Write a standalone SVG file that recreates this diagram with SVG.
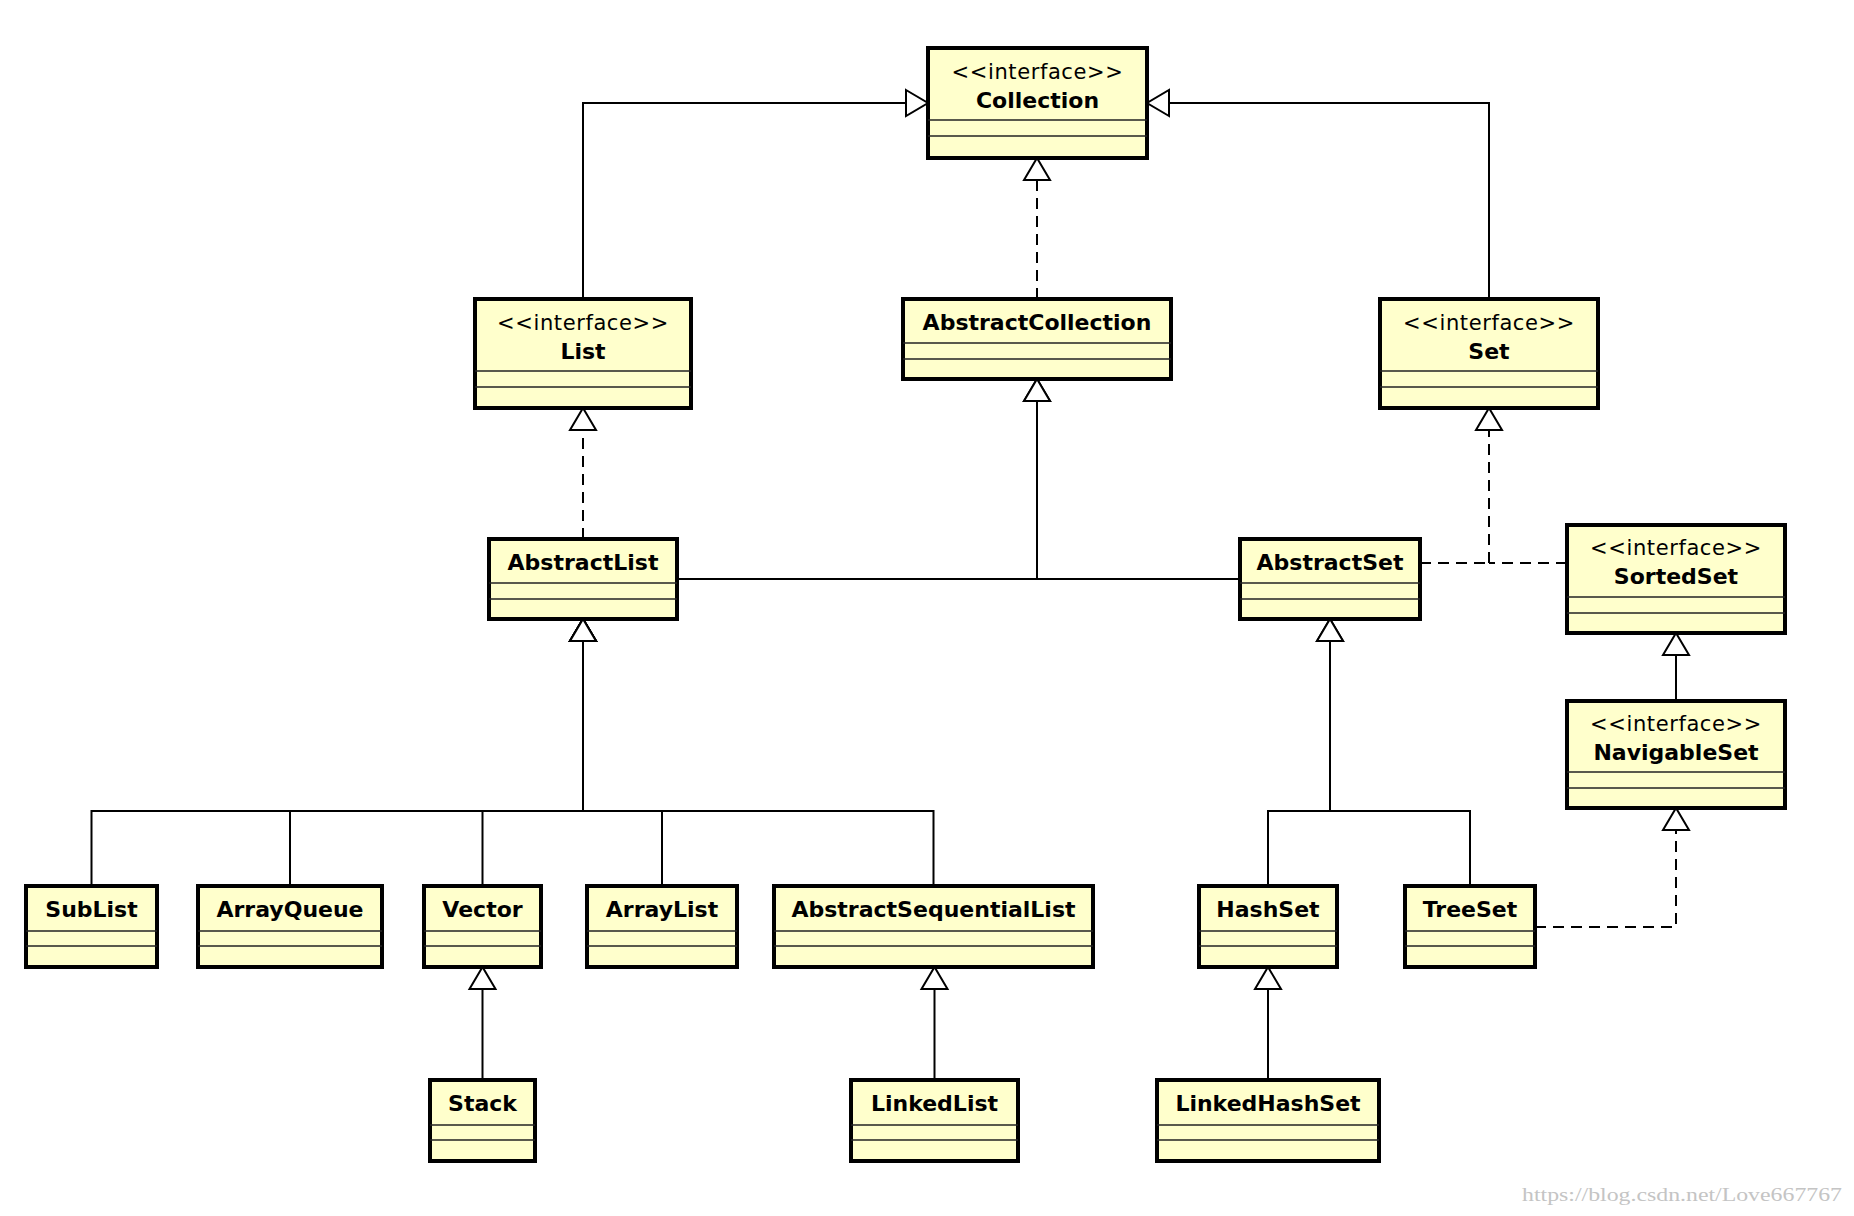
<svg xmlns="http://www.w3.org/2000/svg" width="1854" height="1216" viewBox="0 0 1854 1216">
<style>
.box{fill:#ffffcc;stroke:#000;stroke-width:4}
.sep{stroke:#222;stroke-width:1.6}
.name{font-family:"DejaVu Sans",Verdana,sans-serif;font-size:22px;font-weight:bold;text-anchor:middle;fill:#000}
.st{font-family:"DejaVu Sans",Verdana,sans-serif;font-size:21px;text-anchor:middle;fill:#000;letter-spacing:0.6px}
.c{fill:none;stroke:#000;stroke-width:2}
.d{fill:none;stroke:#000;stroke-width:2;stroke-dasharray:11 7}
.wm{font-family:"Liberation Serif",serif;font-size:19px;fill:#c4c4c4}
</style>
<defs>
<marker id="tri" markerUnits="userSpaceOnUse" markerWidth="26" markerHeight="30" refX="22" refY="13" orient="auto" overflow="visible">
<path d="M0,0 L22,13 L0,26 Z" fill="#fff" stroke="#000" stroke-width="2" stroke-dasharray="none"/>
</marker>
</defs>
<rect width="1854" height="1216" fill="#fff"/>
<g id="connectors">
<path class="c" d="M583,299 V103 H928" marker-end="url(#tri)"/>
<path class="c" d="M1489,299 V103 H1147" marker-end="url(#tri)"/>
<path class="d" d="M1037,299 V158" marker-end="url(#tri)"/>
<path class="d" d="M583,539 V408" marker-end="url(#tri)"/>
<path class="c" d="M677,579 H1037 V379" marker-end="url(#tri)"/>
<path class="c" d="M1240,579 H1037 V379" marker-end="url(#tri)"/>
<path class="d" d="M1420,563 H1489"/>
<path class="d" d="M1567,563 H1489"/>
<path class="d" d="M1489,563 V408" marker-end="url(#tri)"/>
<path class="c" d="M1676,701 V633" marker-end="url(#tri)"/>
<path class="d" d="M1535,927 H1676 V808" marker-end="url(#tri)"/>
<path class="c" d="M91.5,886 V811 H583 V619" marker-end="url(#tri)"/>
<path class="c" d="M290,886 V811 H583 V619" marker-end="url(#tri)"/>
<path class="c" d="M482.5,886 V811 H583 V619" marker-end="url(#tri)"/>
<path class="c" d="M662,886 V811 H583 V619" marker-end="url(#tri)"/>
<path class="c" d="M933.5,886 V811 H583 V619" marker-end="url(#tri)"/>
<path class="c" d="M482.5,1080 V967" marker-end="url(#tri)"/>
<path class="c" d="M934.5,1080 V967" marker-end="url(#tri)"/>
<path class="c" d="M1268,886 V811 H1330 V619" marker-end="url(#tri)"/>
<path class="c" d="M1470,886 V811 H1330 V619" marker-end="url(#tri)"/>
<path class="c" d="M1268,1080 V967" marker-end="url(#tri)"/>
</g>
<g id="Collection">
<rect class="box" x="928" y="48" width="219" height="110"/>
<text class="st" x="1037.5" y="79">&lt;&lt;interface&gt;&gt;</text>
<text class="name" x="1037.5" y="108">Collection</text>
<line class="sep" x1="928" y1="120" x2="1147" y2="120"/>
<line class="sep" x1="928" y1="136" x2="1147" y2="136"/>
</g>
<g id="List">
<rect class="box" x="475" y="299" width="216" height="109"/>
<text class="st" x="583" y="330">&lt;&lt;interface&gt;&gt;</text>
<text class="name" x="583" y="359">List</text>
<line class="sep" x1="475" y1="371" x2="691" y2="371"/>
<line class="sep" x1="475" y1="387" x2="691" y2="387"/>
</g>
<g id="AbstractCollection">
<rect class="box" x="903" y="299" width="268" height="80"/>
<text class="name" x="1037" y="330">AbstractCollection</text>
<line class="sep" x1="903" y1="343" x2="1171" y2="343"/>
<line class="sep" x1="903" y1="359" x2="1171" y2="359"/>
</g>
<g id="Set">
<rect class="box" x="1380" y="299" width="218" height="109"/>
<text class="st" x="1489" y="330">&lt;&lt;interface&gt;&gt;</text>
<text class="name" x="1489" y="359">Set</text>
<line class="sep" x1="1380" y1="371" x2="1598" y2="371"/>
<line class="sep" x1="1380" y1="387" x2="1598" y2="387"/>
</g>
<g id="AbstractList">
<rect class="box" x="489" y="539" width="188" height="80"/>
<text class="name" x="583" y="570">AbstractList</text>
<line class="sep" x1="489" y1="583" x2="677" y2="583"/>
<line class="sep" x1="489" y1="599" x2="677" y2="599"/>
</g>
<g id="AbstractSet">
<rect class="box" x="1240" y="539" width="180" height="80"/>
<text class="name" x="1330" y="570">AbstractSet</text>
<line class="sep" x1="1240" y1="583" x2="1420" y2="583"/>
<line class="sep" x1="1240" y1="599" x2="1420" y2="599"/>
</g>
<g id="SortedSet">
<rect class="box" x="1567" y="525" width="218" height="108"/>
<text class="st" x="1676" y="555">&lt;&lt;interface&gt;&gt;</text>
<text class="name" x="1676" y="584">SortedSet</text>
<line class="sep" x1="1567" y1="597" x2="1785" y2="597"/>
<line class="sep" x1="1567" y1="613" x2="1785" y2="613"/>
</g>
<g id="NavigableSet">
<rect class="box" x="1567" y="701" width="218" height="107"/>
<text class="st" x="1676" y="731">&lt;&lt;interface&gt;&gt;</text>
<text class="name" x="1676" y="760">NavigableSet</text>
<line class="sep" x1="1567" y1="772" x2="1785" y2="772"/>
<line class="sep" x1="1567" y1="788" x2="1785" y2="788"/>
</g>
<g id="SubList">
<rect class="box" x="26" y="886" width="131" height="81"/>
<text class="name" x="91.5" y="917">SubList</text>
<line class="sep" x1="26" y1="931" x2="157" y2="931"/>
<line class="sep" x1="26" y1="946" x2="157" y2="946"/>
</g>
<g id="ArrayQueue">
<rect class="box" x="198" y="886" width="184" height="81"/>
<text class="name" x="290" y="917">ArrayQueue</text>
<line class="sep" x1="198" y1="931" x2="382" y2="931"/>
<line class="sep" x1="198" y1="946" x2="382" y2="946"/>
</g>
<g id="Vector">
<rect class="box" x="424" y="886" width="117" height="81"/>
<text class="name" x="482.5" y="917">Vector</text>
<line class="sep" x1="424" y1="931" x2="541" y2="931"/>
<line class="sep" x1="424" y1="946" x2="541" y2="946"/>
</g>
<g id="ArrayList">
<rect class="box" x="587" y="886" width="150" height="81"/>
<text class="name" x="662" y="917">ArrayList</text>
<line class="sep" x1="587" y1="931" x2="737" y2="931"/>
<line class="sep" x1="587" y1="946" x2="737" y2="946"/>
</g>
<g id="AbstractSequentialList">
<rect class="box" x="774" y="886" width="319" height="81"/>
<text class="name" x="933.5" y="917">AbstractSequentialList</text>
<line class="sep" x1="774" y1="931" x2="1093" y2="931"/>
<line class="sep" x1="774" y1="946" x2="1093" y2="946"/>
</g>
<g id="HashSet">
<rect class="box" x="1199" y="886" width="138" height="81"/>
<text class="name" x="1268" y="917">HashSet</text>
<line class="sep" x1="1199" y1="931" x2="1337" y2="931"/>
<line class="sep" x1="1199" y1="946" x2="1337" y2="946"/>
</g>
<g id="TreeSet">
<rect class="box" x="1405" y="886" width="130" height="81"/>
<text class="name" x="1470" y="917">TreeSet</text>
<line class="sep" x1="1405" y1="931" x2="1535" y2="931"/>
<line class="sep" x1="1405" y1="946" x2="1535" y2="946"/>
</g>
<g id="Stack">
<rect class="box" x="430" y="1080" width="105" height="81"/>
<text class="name" x="482.5" y="1111">Stack</text>
<line class="sep" x1="430" y1="1125" x2="535" y2="1125"/>
<line class="sep" x1="430" y1="1140" x2="535" y2="1140"/>
</g>
<g id="LinkedList">
<rect class="box" x="851" y="1080" width="167" height="81"/>
<text class="name" x="934.5" y="1111">LinkedList</text>
<line class="sep" x1="851" y1="1125" x2="1018" y2="1125"/>
<line class="sep" x1="851" y1="1140" x2="1018" y2="1140"/>
</g>
<g id="LinkedHashSet">
<rect class="box" x="1157" y="1080" width="222" height="81"/>
<text class="name" x="1268" y="1111">LinkedHashSet</text>
<line class="sep" x1="1157" y1="1125" x2="1379" y2="1125"/>
<line class="sep" x1="1157" y1="1140" x2="1379" y2="1140"/>
</g>
<text class="wm" x="1522" y="1201" textLength="320" lengthAdjust="spacingAndGlyphs">https://blog.csdn.net/Love667767</text>
</svg>
